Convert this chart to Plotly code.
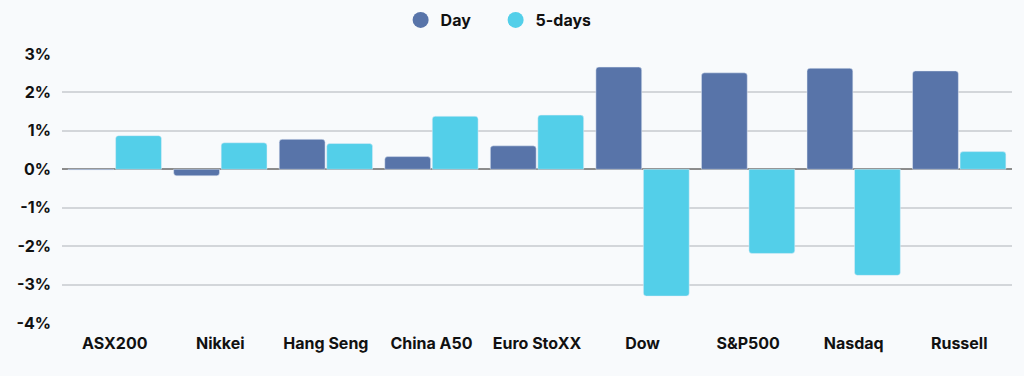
import plotly.graph_objects as go

categories = ["ASX200", "Nikkei", "Hang Seng", "China A50", "Euro StoXX", "Dow", "S&P500", "Nasdaq", "Russell"]
day_values = [-0.02, -0.17, 0.78, 0.33, 0.61, 2.66, 2.51, 2.63, 2.56]
five_day_values = [0.875, 0.69, 0.67, 1.38, 1.41, -3.30, -2.19, -2.76, 0.46]
y_tick_values = [3, 2, 1, 0, -1, -2, -3, -4]
y_tick_labels = ["3%", "2%", "1%", "0%", "-1%", "-2%", "-3%", "-4%"]

DAY_COLOR = "#5874A9"
FIVE_COLOR = "#53CFE9"
FONT = "Inter"

fig = go.Figure()
fig.add_trace(go.Bar(x=categories, y=day_values, name="Day", marker_color=DAY_COLOR,
                     showlegend=False))
fig.add_trace(go.Bar(x=categories, y=five_day_values, name="5-days", marker_color=FIVE_COLOR,
                     showlegend=False))
# legend entries with circular markers
fig.add_trace(go.Scatter(x=[None], y=[None], mode="markers", name="Day",
                         marker=dict(symbol="circle", size=17, color=DAY_COLOR)))
fig.add_trace(go.Scatter(x=[None], y=[None], mode="markers", name="5-days",
                         marker=dict(symbol="circle", size=17, color=FIVE_COLOR)))

fig.update_layout(
    width=1024, height=376,
    margin=dict(l=62, r=12, t=54, b=53, autoexpand=False),
    paper_bgcolor="#F8FAFC",
    plot_bgcolor="rgba(0,0,0,0)",
    barmode="group",
    bargap=0.1,
    bargroupgap=0.035,
    barcornerradius=3,
    font=dict(family=FONT, color="#111111"),
    legend=dict(orientation="h", x=0.484, xanchor="center", xref="container",
                y=1 - 20 / 376, yanchor="middle", yref="container",
                font=dict(family=FONT, size=16, color="#111111", weight="bold"),
                itemwidth=30, entrywidth=50, bgcolor="rgba(0,0,0,0)", traceorder="normal"),
    xaxis=dict(showgrid=False, tickfont=dict(family=FONT, size=16, color="#111111", weight="bold"),
               ticks="", showline=False, ticklabelstandoff=9),
    yaxis=dict(range=[-4, 3], tickvals=y_tick_values, ticktext=y_tick_labels,
               showgrid=True, gridcolor="#D3D6DA", gridwidth=1.5,
               zeroline=True, zerolinecolor="#8C8C8C", zerolinewidth=1.5,
               tickfont=dict(family=FONT, size=16, color="#111111", weight="bold"),
               ticks="", ticklabelstandoff=10),
)

fig.write_html("out.html", post_script="document.body.style.margin='0';",
               config={"displayModeBar": False})
